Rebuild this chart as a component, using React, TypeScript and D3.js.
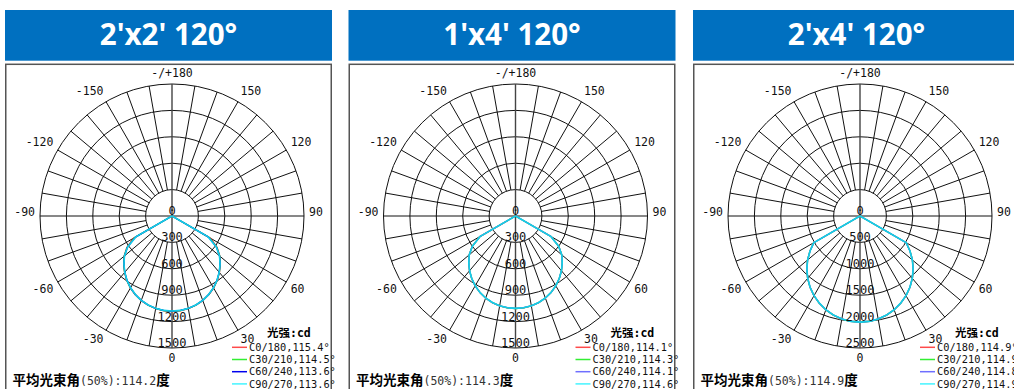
import React from "react";
import * as d3 from "d3";

// ---------- data ----------
const TITLES = ["2'x2' 120°", "1'x4' 120°", "2'x4' 120°"];
const MAX_CD = [1500, 1500, 2500];
const RING_TICKS_A = [0, 300, 600, 900, 1200, 1500];
const RING_TICKS_B = [0, 300, 600, 900, 1200, 1500];
const RING_TICKS_C = [0, 500, 1000, 1500, 2000, 2500];
const ANGLE_TICKS = [180, 150, 120, 90, 60, 30, 0, -30, -60, -90, -120, -150];
const GAMMA = [0, 5, 10, 15, 20, 25, 30, 35, 40, 45, 50, 55, 60, 65, 70, 75, 80, 85, 90];

// panel 1 (2'x2')
const P1_C0 = [1086, 1081, 1069, 1050, 1023, 988, 946, 896, 839, 777, 711, 628, 505, 0, 0, 0, 0, 0, 0];
const P1_C30 = [1083, 1079, 1067, 1048, 1021, 986, 944, 894, 837, 774, 708, 622, 492, 0, 0, 0, 0, 0, 0];
const P1_C60 = [1081, 1077, 1066, 1047, 1020, 985, 942, 892, 835, 772, 705, 617, 480, 0, 0, 0, 0, 0, 0];
const P1_C90 = [1080, 1077, 1066, 1047, 1020, 985, 942, 892, 835, 772, 705, 615, 475, 0, 0, 0, 0, 0, 0];
// panel 2 (1'x4')
const P2_C0 = [1052, 1048, 1037, 1019, 993, 959, 917, 868, 813, 752, 687, 600, 468, 0, 0, 0, 0, 0, 0];
const P2_C30 = [1051, 1047, 1036, 1018, 992, 958, 916, 867, 812, 751, 686, 599, 465, 0, 0, 0, 0, 0, 0];
const P2_C60 = [1050, 1046, 1036, 1018, 992, 958, 916, 867, 812, 751, 686, 598, 463, 0, 0, 0, 0, 0, 0];
const P2_C90 = [1050, 1047, 1036, 1018, 992, 958, 916, 867, 812, 751, 686, 598, 462, 0, 0, 0, 0, 0, 0];
// panel 3 (2'x4')
const P3_C0 = [2012, 2005, 1982, 1944, 1892, 1824, 1744, 1650, 1543, 1425, 1297, 1158, 1012, 0, 0, 0, 0, 0, 0];
const P3_C30 = [2011, 2004, 1981, 1943, 1891, 1823, 1743, 1649, 1542, 1424, 1296, 1156, 1011, 0, 0, 0, 0, 0, 0];
const P3_C60 = [2010, 2003, 1980, 1942, 1890, 1822, 1742, 1648, 1541, 1423, 1295, 1155, 1008, 0, 0, 0, 0, 0, 0];
const P3_C90 = [2010, 2003, 1980, 1942, 1890, 1822, 1742, 1648, 1541, 1423, 1295, 1155, 1010, 0, 0, 0, 0, 0, 0];

const LEGEND_1 = ["C0/180,115.4°", "C30/210,114.5°", "C60/240,113.6°", "C90/270,113.6°"];
const LEGEND_2 = ["C0/180,114.1°", "C30/210,114.3°", "C60/240,114.1°", "C90/270,114.6°"];
const LEGEND_3 = ["C0/180,114.9°", "C30/210,114.9°", "C60/240,114.8°", "C90/270,114.9°"];
const AVG_BEAM = ["114.2", "114.3", "114.9"];

const PANELS = [
  { title: TITLES[0], max: MAX_CD[0], ticks: RING_TICKS_A, series: [P1_C0, P1_C30, P1_C60, P1_C90], legend: LEGEND_1, avg: AVG_BEAM[0], blue: "#0000ee" },
  { title: TITLES[1], max: MAX_CD[1], ticks: RING_TICKS_B, series: [P2_C0, P2_C30, P2_C60, P2_C90], legend: LEGEND_2, avg: AVG_BEAM[1], blue: "#6f6fff" },
  { title: TITLES[2], max: MAX_CD[2], ticks: RING_TICKS_C, series: [P3_C0, P3_C30, P3_C60, P3_C90], legend: LEGEND_3, avg: AVG_BEAM[2], blue: "#6f6fff" },
];

// ---------- layout ----------
const W = 1014;
const H = 389;
const PANEL_X = [5, 348.5, 693];
const PANEL_W = 327;
const TITLE_Y = 10;
const TITLE_H = 50.7;
const BOX_Y = 64.3;
const CX_OFF = 167;
const CY = 216;
const R = 132;
const MONO = "'DejaVu Sans Mono', monospace";
const CJK = "'Noto Sans CJK SC', sans-serif";

function Panel({ p, x0 }: { p: any; x0: number }) {
  const cx = x0 + CX_OFF;
  const r = d3.scaleLinear().domain([0, p.max]).range([0, R]);
  const colors = ["#ff2a2a", "#22e622", p.blue, "#12cfe8"];
  const legendColors = ["#ff4a4a", "#33ee33", p.blue, "#44f4ff"];

  const spokes: number[] = d3.range(0, 360, 10).filter((a) => a % 90 !== 0);
  const rad = (deg: number) => (deg * Math.PI) / 180;

  const line = d3
    .lineRadial<[number, number]>()
    .angle((d) => Math.PI - rad(d[0]))
    .radius((d) => r(d[1]));

  const buildPts = (vals: number[]): [number, number][] => {
    const left: [number, number][] = GAMMA.slice().reverse().map((g, i) => [-g, vals[GAMMA.length - 1 - i]]);
    const right: [number, number][] = GAMMA.slice(1).map((g, i) => [g, vals[i + 1]]);
    return [...left, ...right];
  };

  return (
    <g>
      <rect x={x0} y={TITLE_Y} width={PANEL_W} height={TITLE_H} fill="#0070c0" />
      <text x={x0 + PANEL_W / 2} y={TITLE_Y + 35} textAnchor="middle" fill="#fff" fontFamily="'Open Sans', sans-serif" fontWeight={700} fontSize={29.5}>
        {p.title}
      </text>
      <rect x={x0 + 0.75} y={BOX_Y} width={PANEL_W - 1.5} height={H} fill="#fff" stroke="#555" strokeWidth={1.5} />

      {/* rings */}
      {p.ticks.slice(1).map((t: number) => (
        <circle key={t} cx={cx} cy={CY} r={r(t)} fill="none" stroke="#111" strokeWidth={1} />
      ))}
      {/* spokes */}
      {spokes.map((a) => (
        <line key={a} x1={cx + r(p.ticks[1]) * Math.sin(rad(a))} y1={CY + r(p.ticks[1]) * Math.cos(rad(a))} x2={cx + R * Math.sin(rad(a))} y2={CY + R * Math.cos(rad(a))} stroke="#111" strokeWidth={1} />
      ))}
      <line x1={cx - R} y1={CY} x2={cx + R} y2={CY} stroke="#111" strokeWidth={1} />
      <line x1={cx} y1={CY - R} x2={cx} y2={CY + R} stroke="#444" strokeWidth={1.4} />

      {/* curves */}
      <g transform={`translate(${cx},${CY})`}>
        {p.series.map((s: number[], i: number) => (
          <path key={i} d={line(buildPts(s)) || ""} fill="none" stroke={colors[i]} strokeWidth={i === 3 ? 1.6 : 1.3} strokeLinejoin="round" />
        ))}
      </g>

      {/* ring labels */}
      {p.ticks.map((t: number) => (
        <text key={t} x={cx} y={CY + r(t) - 5} textAnchor="middle" dominantBaseline="central" fontFamily={MONO} fontSize={12} fill="#111">
          {t}
        </text>
      ))}

      {/* angle labels */}
      {ANGLE_TICKS.map((a) => {
        const s = Math.sin(rad(a));
        const c = Math.cos(rad(a));
        const px = cx + (R + 5) * s;
        const py = CY + (R + 5) * c;
        const anchor = Math.abs(s) < 0.01 ? "middle" : s > 0 ? "start" : "end";
        const by = c < -0.01 ? py - 2 : c > 0.01 ? py + 8.5 : py;
        return (
          <text key={a} x={px} y={by} textAnchor={anchor} fontFamily={MONO} fontSize={11.5} fill="#111">
            {a === 180 ? "-/+180" : String(a)}
          </text>
        );
      })}

      {/* legend */}
      <text x={x0 + 262} y={337} fontSize={11.5} fontWeight={700} fill="#000">
        <tspan fontFamily={CJK}>光强</tspan>
        <tspan fontFamily={MONO}>:cd</tspan>
      </text>
      {p.legend.map((l: string, i: number) => (
        <g key={l}>
          <line x1={x0 + 227} x2={x0 + 242} y1={347.3 + i * 12.2} y2={347.3 + i * 12.2} stroke={legendColors[i]} strokeWidth={1.5} />
          <text x={x0 + 244} y={351 + i * 12.2} fontFamily={MONO} fontSize={10.3} fill="#111">
            {l}
          </text>
        </g>
      ))}

      {/* average beam angle */}
      <text x={x0 + 7.5} y={385} fill="#000">
        <tspan fontFamily={CJK} fontWeight={700} fontSize={13.5}>平均光束角</tspan>
        <tspan fontFamily={MONO} fontSize={11.5} fill="#333">(50%):{p.avg}</tspan>
        <tspan fontFamily={CJK} fontWeight={700} fontSize={13.5}>度</tspan>
      </text>
    </g>
  );
}

export default function App() {
  return (
    <div style={{ position: "fixed", left: 0, top: 0, width: W, height: H, background: "#fff" }}>
      <svg width={W} height={H} style={{ display: "block" }}>
        <rect width={W} height={H} fill="#fff" />
        {PANELS.map((p, i) => (
          <Panel key={i} p={p} x0={PANEL_X[i]} />
        ))}
      </svg>
    </div>
  );
}
